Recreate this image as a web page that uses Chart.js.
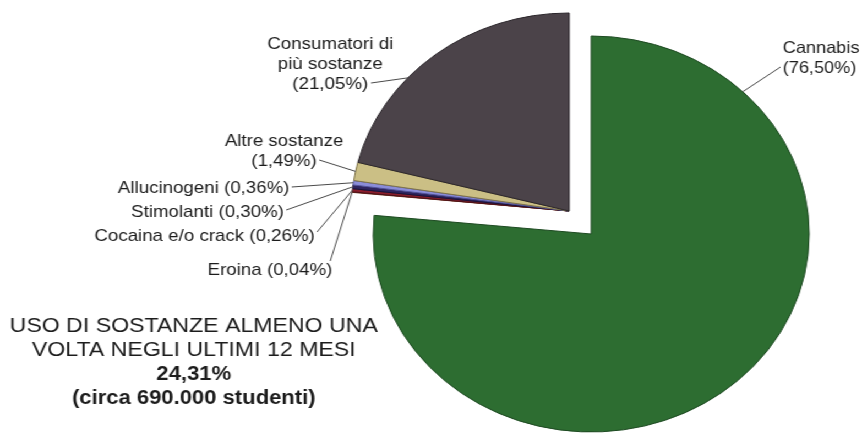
<!DOCTYPE html>
<html>
<head>
<meta charset="utf-8">
<script src="https://cdn.jsdelivr.net/npm/chart.js@4"></script>
<style>
  html, body { margin: 0; padding: 0; background: #fff; overflow: hidden; }
  #stage { position: relative; width: 783px; height: 435px; transform: scaleX(1.1009); transform-origin: 0 0; }
  .layer { position: absolute; left: 0; top: 0; width: 783px; height: 435px; }
</style>
</head>
<body>
<div id="stage">
  <div class="layer"><canvas id="cannabis_chart"></canvas></div>
  <div class="layer"><canvas id="group_chart"></canvas></div>
</div>
<script>
// data (percent of students who used substances)
var categories = ['Cannabis', 'Eroina', 'Cocaina e/o crack', 'Stimolanti', 'Allucinogeni', 'Altre sostanze', 'Consumatori di più sostanze']
var percentages = [76.50, 0.04, 0.26, 0.30, 0.36, 1.49, 21.05]
var colors = ['#2d6d31', '#b4502e', '#8b1e2d', '#2e2460', '#8a8cd8', '#cbbf85', '#4b4349']
var borders = ['#1e4a22', '#6a2a18', '#4a1018', '#1a1238', '#50529a', '#7d7248', '#2a252a']
var summaryLines = ['USO DI SOSTANZE ALMENO UNA', 'VOLTA NEGLI ULTIMI 12 MESI', '24,31%', '(circa 690.000 studenti)']

var W = 783, H = 435
var FONT = '"Liberation Sans", Arial, sans-serif'

function pct(v) {
    return '(' + v.toFixed(2).replace('.', ',') + '%)'
}

// where each label sits; text built from the arrays above
var labelLayout = [
    {i: 0, lines: [categories[0], pct(percentages[0])], x: 711, y: 48, align: 'left', from: {x: 709, y: 67}, frac: 0.16, size: 16.5},
    {i: 6, lines: ['Consumatori di', 'più sostanze', pct(percentages[6])], x: 300, y: 44, align: 'center', from: {x: 337, y: 83}, frac: 0.37},
    {i: 5, lines: ['Altre sostanze', pct(percentages[5])], x: 258, y: 141, align: 'center', from: {x: 290, y: 160}, frac: 0.5},
    {i: 4, lines: [categories[4] + ' ' + pct(percentages[4])], x: 263, y: 188, align: 'right', from: {x: 265, y: 187}, frac: 0.5},
    {i: 3, lines: [categories[3] + ' ' + pct(percentages[3])], x: 258, y: 212, align: 'right', from: {x: 260, y: 210}, frac: 0.5},
    {i: 2, lines: [categories[2] + ' ' + pct(percentages[2])], x: 286, y: 236, align: 'right', from: {x: 288, y: 232}, frac: 0.5},
    {i: 1, lines: [categories[1] + ' ' + pct(percentages[1])], x: 302, y: 270, align: 'right', from: {x: 300, y: 261}, frac: 0.5}
]

function padAround(cx, cy) {
    return {left: cx - 100, right: W - cx - 100, top: cy - 100, bottom: H - cy - 100}
}

function makeConfig(showSlice, cx, cy, plugins) {
    return {
        type: 'pie',
        data: {
            labels: categories,
            datasets: [{
                data: percentages,
                backgroundColor: colors.map(function (c, i) { return showSlice(i) ? c : 'rgba(0,0,0,0)' }),
                borderColor: borders.map(function (c, i) { return showSlice(i) ? c : 'rgba(0,0,0,0)' }),
                borderWidth: percentages.map(function (v, i) { return showSlice(i) ? 1 : 0 }),
                clip: false
            }]
        },
        options: {
            responsive: true,
            maintainAspectRatio: false,
            animation: false,
            events: [],
            radius: 198,
            layout: {padding: padAround(cx, cy)},
            plugins: {legend: {display: false}, tooltip: {enabled: false}}
        },
        plugins: plugins || []
    }
}

var cannabisChart = new Chart(document.getElementById('cannabis_chart'),
    makeConfig(function (i) { return i == 0 }, 537, 234))

function arcPoint(el, frac) {
    var p = el.getProps(['x', 'y', 'startAngle', 'endAngle', 'outerRadius'], true)
    var a = p.startAngle + (p.endAngle - p.startAngle) * frac
    return {x: p.x + Math.cos(a) * p.outerRadius, y: p.y + Math.sin(a) * p.outerRadius}
}

var labelPlugin = {
    id: 'sliceLabels',
    afterDraw: function (chart) {
        var ctx = chart.ctx
        var groupArcs = chart.getDatasetMeta(0).data
        var cannabisArcs = cannabisChart.getDatasetMeta(0).data
        ctx.save()
        ctx.strokeStyle = '#4a4a4a'
        ctx.lineWidth = 1
        ctx.fillStyle = '#1c1c1c'
        ctx.textBaseline = 'middle'
        labelLayout.forEach(function (l) {
            var el = l.i == 0 ? cannabisArcs[0] : groupArcs[l.i]
            var to = arcPoint(el, l.frac)
            ctx.beginPath()
            ctx.moveTo(l.from.x, l.from.y)
            ctx.lineTo(to.x, to.y)
            ctx.stroke()
            ctx.font = (l.size || 17) + 'px ' + FONT
            ctx.textAlign = l.align
            l.lines.forEach(function (t, k) {
                ctx.fillText(t, l.x, l.y + k * 20)
            })
        })

        // summary block bottom left
        ctx.textAlign = 'center'
        summaryLines.forEach(function (t, k) {
            ctx.font = (k < 2 ? '' : 'bold ') + (k < 2 ? '21px ' : '20px ') + FONT
            ctx.fillText(t, 176, 326 + k * 24)
        })
        ctx.restore()
    }
}

var groupChart = new Chart(document.getElementById('group_chart'),
    makeConfig(function (i) { return i != 0 }, 517, 211, [labelPlugin]))
</script>
</body>
</html>
